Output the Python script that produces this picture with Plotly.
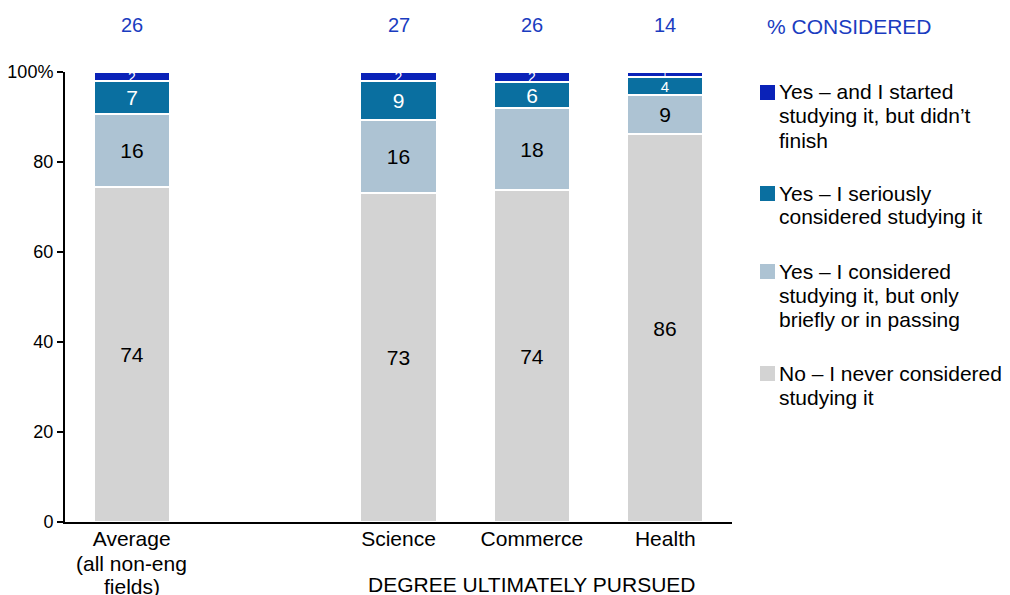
import plotly.graph_objects as go

categories = ["Average", "Science", "Commerce", "Health"]
category_extra = ["(all non-eng", "fields)"]
x_pos = [0, 2, 3, 4]
never = [74.4, 73.1, 73.8, 86.2]
briefly = [16.2, 16.2, 18.2, 8.7]
seriously = [7.3, 8.7, 5.8, 3.9]
started = [2.1, 2.0, 2.2, 1.2]
never_lbl = [74, 73, 74, 86]
briefly_lbl = [16, 16, 18, 9]
seriously_lbl = [7, 9, 6, 4]
started_lbl = [2, 2, 2, 1]
considered = [26, 27, 26, 14]

FONT = "Liberation Sans, Arial, sans-serif"
BLUE_TXT = "#1a3cc0"

# page body has an 8px default margin; compensate so the picture lines up
OFF = 8
W, H = 1010 - OFF, 595 - OFF
PL, PR, PT, PB = 65, 732, 72, 522  # plot area in page pixels

series = [
    ("No – I never considered studying it", never, never_lbl, "#d3d3d3", "black", [21, 21, 21, 21]),
    ("Yes – I considered studying it, but only briefly or in passing", briefly, briefly_lbl, "#adc3d3", "black", [21, 21, 21, 21]),
    ("Yes – I seriously considered studying it", seriously, seriously_lbl, "#0a6fa0", "white", [21, 21, 21, 15]),
    ("Yes – and I started studying it, but didn’t finish", started, started_lbl, "#0a22b8", "white", [14, 14, 14, 10]),
]

fig = go.Figure()
for name, vals, lbls, col, tcol, sizes in series:
    fig.add_trace(go.Bar(
        x=x_pos, y=vals, name=name,
        marker=dict(color=col, line=dict(color="white", width=2)),
        width=0.57,
        text=[str(v) for v in lbls], textposition="inside", insidetextanchor="middle",
        textangle=0,
        textfont=dict(color=tcol, size=sizes, family=FONT),
        constraintext="none", showlegend=False, hoverinfo="skip",
    ))

def pxx(px):
    return (px - PL) / (PR - PL)
def pxy(py):
    return (PB - py) / (PB - PT)

# % considered labels on top
for xp, c in zip(x_pos, considered):
    fig.add_annotation(x=xp, y=pxy(25), xref="x", yref="paper", text=str(c),
                       showarrow=False, font=dict(size=20, color=BLUE_TXT), yanchor="middle")
fig.add_annotation(x=pxx(849), y=pxy(26), xref="paper", yref="paper", text="% CONSIDERED",
                   showarrow=False, font=dict(size=21, color=BLUE_TXT), xanchor="center", yanchor="middle")

fig.update_layout(
    width=W, height=H, barmode="stack", bargap=0,
    margin=dict(l=PL - OFF, r=W - (PR - OFF), t=PT - OFF, b=H - (PB - OFF), autoexpand=False),
    plot_bgcolor="white", paper_bgcolor="white",
    font=dict(family=FONT, size=21, color="black"),
    xaxis=dict(range=[-0.5, 4.5], tickmode="array", tickvals=x_pos, ticktext=categories,
               showline=True, linecolor="black", linewidth=2, ticks="", showgrid=False,
               zeroline=False, tickfont=dict(size=21), automargin=False, ticklabelstandoff=-3),
    yaxis=dict(range=[0, 100], tickmode="array", tickvals=[0, 20, 40, 60, 80, 100],
               ticktext=["0", "20", "40", "60", "80", "100%"], showline=True, linecolor="black",
               linewidth=2, ticks="outside", ticklen=6, tickwidth=1.5, tickcolor="black",
               showgrid=False, zeroline=False, tickfont=dict(size=18), automargin=False),
)

# extra lines of the first category label
for i, line in enumerate(category_extra):
    fig.add_annotation(x=x_pos[0], y=pxy(563 + 23.5 * i), xref="x", yref="paper", text=line,
                       showarrow=False, font=dict(size=21), yanchor="middle")

fig.add_annotation(x=3, y=pxy(584), xref="x", yref="paper", text="DEGREE ULTIMATELY PURSUED",
                   showarrow=False, font=dict(size=21), yanchor="middle")

# custom legend
legend_items = [
    (["Yes – and I started", "studying it, but didn’t", "finish"], "#0a22b8", 92),
    (["Yes – I seriously", "considered studying it"], "#0a6fa0", 193),
    (["Yes – I considered", "studying it, but only", "briefly or in passing"], "#adc3d3", 271),
    (["No – I never considered", "studying it"], "#d3d3d3", 373),
]
for lines, col, ycen in legend_items:
    fig.add_shape(type="rect", xref="paper", yref="paper",
                  x0=pxx(760), x1=pxx(775), y0=pxy(ycen + 8), y1=pxy(ycen - 7),
                  fillcolor=col, line=dict(width=0))
    for i, line in enumerate(lines):
        fig.add_annotation(x=pxx(777), y=pxy(ycen + 24 * i), xref="paper", yref="paper",
                           text=line, showarrow=False, xanchor="left", yanchor="middle",
                           align="left", font=dict(size=21))

fig.write_html("out.html")
